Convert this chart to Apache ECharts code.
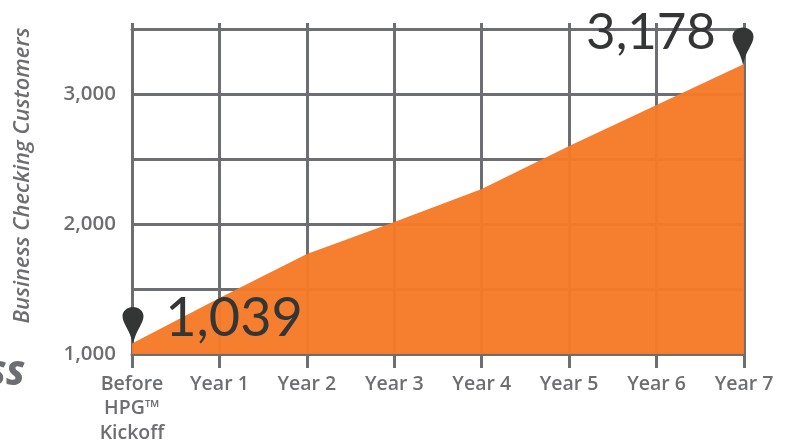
<!DOCTYPE html>
<html><head><meta charset="utf-8">
<style>html,body{margin:0;padding:0;background:#fff}#c{width:788px;height:443px}</style>
<script src="https://cdn.jsdelivr.net/npm/echarts@6/dist/echarts.min.js"></script>
</head><body><div id="c"></div>
<script>
const categories = ['Before\nHPG™\nKickoff','Year 1','Year 2','Year 3','Year 4','Year 5','Year 6','Year 7'];
const customers = [1080,1430,1770,2015,2270,2600,2915,3230];
const callouts = ['1,039','3,178'];
const yTitle = 'Business Checking Customers';
const clipped = 'SS';
const FONT = '"Open Sans", Lato, sans-serif';
const BIG = 'Lato, "Open Sans", sans-serif';
const GRAY = '#6d6e71', DARK = '#333635', ORANGE = '#f67a28';
const PIN = 'path://M50 0C22 0 0 22 0 50C0 90 36 125 50 200C64 125 100 90 100 50C100 22 78 0 50 0Z';
const last = categories.length - 1;
const lineStyle = {color: GRAY, width: 3};
const chart = echarts.init(document.getElementById('c'), null, {renderer:'canvas'});
chart.setOption({
  animation:false,
  backgroundColor:'#fff',
  grid:{left:132,right:44,top:29,bottom:89,outerBoundsMode:'none'},
  xAxis:[{
    type:'category',data:categories,boundaryGap:false,position:'bottom',
    axisLine:{lineStyle},axisTick:{show:true,length:14,lineStyle},
    splitLine:{show:true,lineStyle},
    axisLabel:{interval:0,color:GRAY,fontFamily:FONT,fontWeight:600,fontSize:19.5,lineHeight:24.5,margin:18,hideOverlap:false}
  },{
    type:'category',data:categories,boundaryGap:false,position:'top',
    axisLine:{lineStyle},axisTick:{show:true,length:6,lineStyle},axisLabel:{show:false},splitLine:{show:false}
  }],
  yAxis:{
    type:'value',min:1000,max:3500,interval:500,
    name:yTitle,nameLocation:'middle',nameGap:98,nameRotate:90,
    nameTextStyle:{color:GRAY,fontFamily:FONT,fontStyle:'italic',fontWeight:600,fontSize:22,padding:[0,0,0,32]},
    axisLine:{show:true,lineStyle},axisTick:{show:false},
    splitLine:{show:true,lineStyle},
    axisLabel:{color:GRAY,fontFamily:FONT,fontWeight:600,fontSize:20.5,margin:16,
      formatter:v=>v%1000===0&&v<3500?v.toLocaleString('en-US'):''}
  },
  series:[{
    type:'line',data:customers,symbol:'none',smooth:false,
    lineStyle:{width:0},
    areaStyle:{color:ORANGE,opacity:0.97},
    z:3,
    markPoint:{
      silent:true,
      data:[
        {coord:[0,customers[0]],symbol:PIN,symbolSize:[21,37],symbolOffset:[1,-18],itemStyle:{color:DARK},label:{show:false}},
        {coord:[last,customers[last]],symbol:PIN,symbolSize:[21,37],symbolOffset:[-1,-18],itemStyle:{color:DARK},label:{show:false}},
        {coord:[0,customers[0]],symbol:'circle',symbolSize:0,
          label:{show:true,formatter:callouts[0],position:'inside',offset:[102,-25],color:DARK,fontFamily:BIG,fontSize:54,fontWeight:400}},
        {coord:[last,customers[last]],symbol:'circle',symbolSize:0,
          label:{show:true,formatter:callouts[1],position:'inside',offset:[-93,-32],color:DARK,fontFamily:BIG,fontSize:51,fontWeight:400}}
      ]
    }
  }],
  graphic:[{type:'text',left:-13,top:358,style:{text:clipped,fill:GRAY,font:'italic 800 34px '+FONT}}]
});
</script></body></html>
